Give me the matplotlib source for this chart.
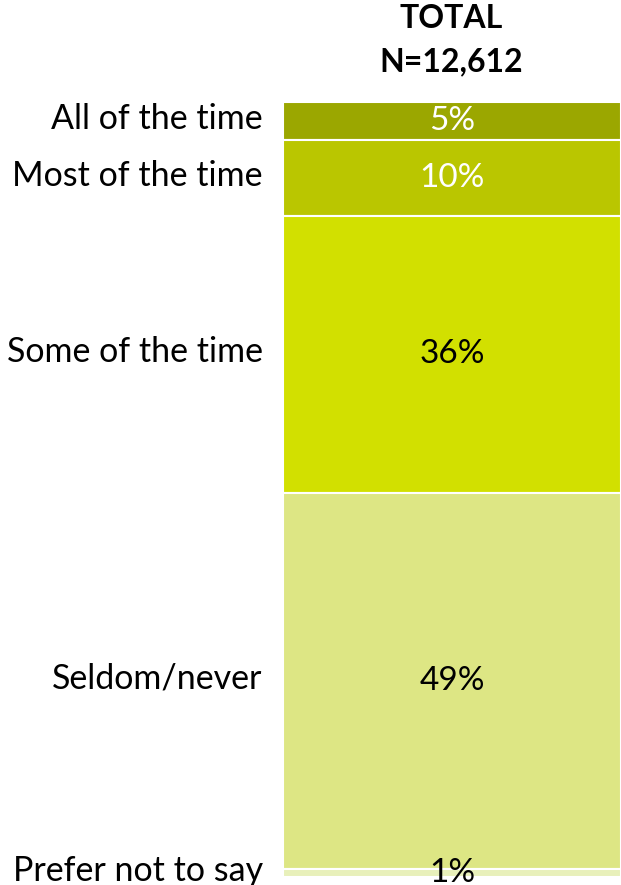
import matplotlib.pyplot as plt

categories = ["All of the time", "Most of the time", "Some of the time", "Seldom/never", "Prefer not to say"]
values = [4.9, 9.8, 35.7, 48.6, 1.0]
colors = ["#9BA700", "#BAC600", "#D2E000", "#DDE684", "#E8F0BA"]
text_colors = ["white", "white", "black", "black", "black"]
title_lines = ["TOTAL", "N=12,612"]

plt.rcParams['font.family'] = ['Lato', 'DejaVu Sans']

fig = plt.figure(figsize=(6.21, 8.85), dpi=100)
ax = fig.add_axes([283/621, 8/885, (621-283)/621, (877-102)/885])
total = sum(values)
top = total
for cat, v, c, tc in zip(categories, values, colors, text_colors):
    bottom = top - v
    ax.bar(0, v, bottom=bottom, width=1.0, color=c, edgecolor='white', linewidth=1.5, clip_on=False)
    mid = bottom + v / 2
    ax.text(0, mid, f"{round(v)}%", ha='center', va='center', color=tc, fontsize=24, clip_on=False)
    ax.text(-0.56, mid + 0.3, cat, ha='right', va='center', color='black', fontsize=24.5, clip_on=False)
    top = bottom
ax.set_xlim(-0.5, 0.5)
ax.set_ylim(0, total)
ax.axis('off')

fig.text(451/621, 1 - 18/885, title_lines[0], ha='center', va='center', fontsize=23, fontweight='bold')
fig.text(451/621, 1 - 62/885, title_lines[1], ha='center', va='center', fontsize=23, fontweight='bold')

fig.savefig("out.png", dpi=100)
